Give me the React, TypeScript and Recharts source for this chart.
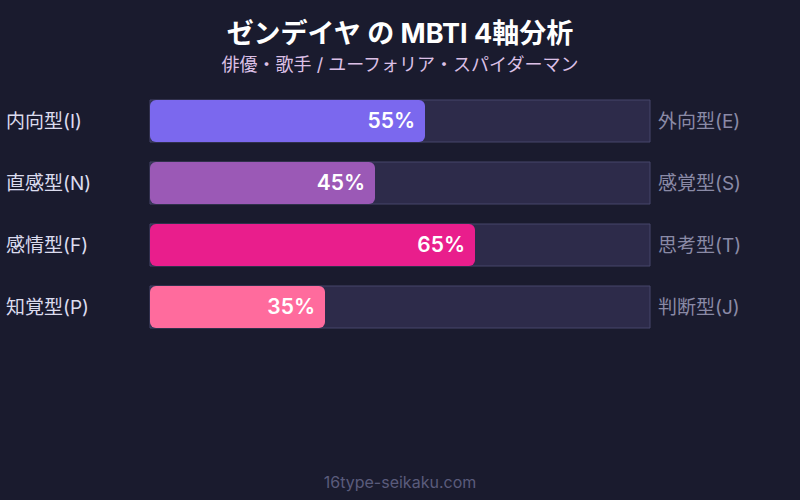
import React from 'react';
import { BarChart, Bar, XAxis, YAxis, Cell, LabelList } from 'recharts';

const leftLabels = ['内向型(I)', '直感型(N)', '感情型(F)', '知覚型(P)'];
const rightLabels = ['外向型(E)', '感覚型(S)', '思考型(T)', '判断型(J)'];
const scores = [55, 45, 65, 35];
const barColors = ['#7b68ee', '#9b59b6', '#e91e8c', '#ff6b9d'];

const data = leftLabels.map((left, i) => ({
  left,
  right: rightLabels[i],
  value: scores[i],
}));

const FONT = "Inter, 'Noto Sans CJK JP', sans-serif";

function LeftTick(props: any) {
  return (
    <text x={6} y={props.y} dy={7} textAnchor="start" fill="#dcdcee" fontSize={19} fontFamily={FONT}>
      {props.payload.value}
    </text>
  );
}

function RightTick(props: any) {
  return (
    <text x={658} y={props.y} dy={7} textAnchor="start" fill="#8a8aa6" fontSize={19} fontFamily={FONT}>
      {props.payload.value}
    </text>
  );
}

export default function App() {
  return (
    <div style={{ position: 'absolute', left: 0, top: 0, width: 800, height: 500, background: '#1a1b2e', fontFamily: FONT }}>
      <div style={{ position: 'absolute', top: 12, width: 800, textAlign: 'center', color: '#ffffff', fontSize: 27, fontWeight: 700 }}>
        ゼンデイヤ の MBTI 4軸分析
      </div>
      <div style={{ position: 'absolute', top: 50, width: 800, textAlign: 'center', color: '#dcc0e6', fontSize: 18 }}>
        俳優・歌手 / ユーフォリア・スパイダーマン
      </div>
      <BarChart
        width={800}
        height={500}
        data={data}
        layout="vertical"
        margin={{ top: 90, right: 0, bottom: 162, left: 0 }}
        barCategoryGap={10}
      >
        <XAxis type="number" domain={[0, 100]} hide />
        <YAxis yAxisId="l" type="category" dataKey="left" width={150} axisLine={false} tickLine={false} tick={<LeftTick />} />
        <YAxis yAxisId="r" type="category" dataKey="right" orientation="right" width={150} axisLine={false} tickLine={false} tick={<RightTick />} />
        <Bar
          yAxisId="l"
          dataKey="value"
          barSize={42}
          radius={6}
          isAnimationActive={false}
          background={{ fill: '#2d2b4a', stroke: '#46466a', strokeWidth: 1 }}
        >
          {data.map((d, i) => (
            <Cell key={d.left} fill={barColors[i]} />
          ))}
          <LabelList
            dataKey="value"
            position="insideRight"
            offset={10}
            formatter={(v: any) => `${v}%`}
            fill="#ffffff"
            fontSize={21}
            fontWeight={600}
            fontFamily={FONT}
          />
        </Bar>
      </BarChart>
      <div style={{ position: 'absolute', top: 472, width: 800, textAlign: 'center', color: '#5a5b7c', fontSize: 16 }}>
        16type-seikaku.com
      </div>
    </div>
  );
}
